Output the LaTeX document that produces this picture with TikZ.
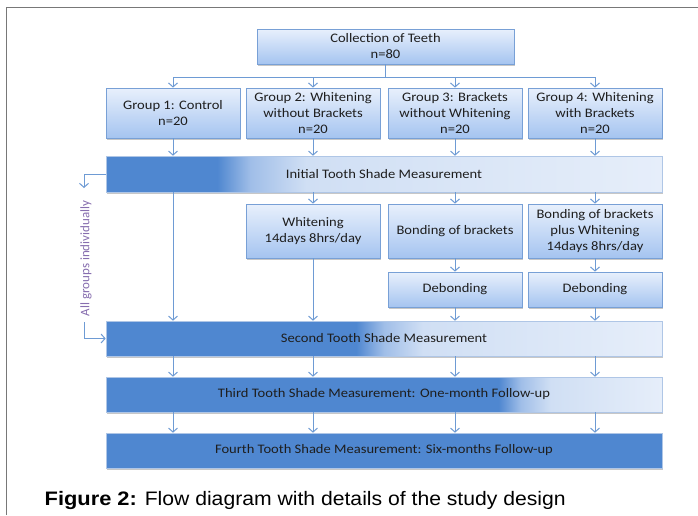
\documentclass[tikz,border=0pt]{standalone}
\usepackage{fontspec}
\setmainfont{Carlito}
\newfontfamily\boxfont[FakeStretch=1.12]{Carlito}
\newfontfamily\sidefont{Carlito}
\newfontfamily\capfont[FakeStretch=1.085, BoldFeatures={FakeStretch=1.12}]{Liberation Sans}
\usetikzlibrary{arrows.meta,shadows}
\definecolor{dk}{RGB}{79,135,208}
\definecolor{md}{RGB}{160,190,232}
\definecolor{lt}{RGB}{208,223,244}
\definecolor{ltr}{RGB}{230,238,250}
\definecolor{boxtop}{RGB}{232,240,252}
\definecolor{boxbot}{RGB}{165,196,240}
\definecolor{boxedge}{RGB}{120,160,214}
\definecolor{baredge}{RGB}{175,198,230}
\definecolor{arrc}{RGB}{110,155,212}
\definecolor{purp}{RGB}{135,110,175}
\definecolor{txt}{RGB}{30,30,30}
\definecolor{frm}{RGB}{120,120,120}
\pgfdeclarehorizontalshading{shInit}{100bp}{color(0bp)=(dk); color(35bp)=(dk); color(38bp)=(md); color(43bp)=(lt); color(75bp)=(ltr); color(100bp)=(ltr)}
\pgfdeclarehorizontalshading{shSec}{100bp}{color(0bp)=(dk); color(47.5bp)=(dk); color(50bp)=(md); color(53.5bp)=(lt); color(75bp)=(ltr); color(100bp)=(ltr)}
\pgfdeclarehorizontalshading{shThr}{100bp}{color(0bp)=(dk); color(60.3bp)=(dk); color(62.3bp)=(md); color(65bp)=(lt); color(75bp)=(ltr); color(100bp)=(ltr)}
\tikzset{
  sh/.style={drop shadow={shadow xshift=1.2pt, shadow yshift=-1.5pt, fill=black, opacity=0.22}},
  box/.style={sh, draw=boxedge, line width=0.8pt, top color=boxtop, bottom color=boxbot,
    minimum width=134pt, inner sep=0pt, align=center, text=txt,
    font=\boxfont\fontsize{13}{16}\selectfont},
  bar/.style={sh, draw=baredge, line width=0.6pt, minimum width=556pt, minimum height=35pt,
    inner sep=0pt, align=center, text=txt, font=\boxfont\fontsize{13}{16}\selectfont},
  arr/.style={draw=arrc, line width=1pt, -{Straight Barb[length=4pt,width=9pt]}},
  ln/.style={draw=arrc, line width=1pt}
}
\begin{document}
\begin{tikzpicture}[x=1pt,y=-1pt]
\useasboundingbox (0,0) rectangle (698,515);
\fill[white] (0,0) rectangle (698,515);
\draw[frm, line width=1.6pt] (6.5,515) -- (6.5,7.5) -- (698,7.5);

\node[box, minimum width=257pt, minimum height=35pt] (col) at (385.5,46.5) {Collection of Teeth\\n=80};
\node[box, minimum height=50pt] (g1) at (173,113) {Group 1: Control\\n=20};
\node[box, minimum height=50pt] (g2) at (313,113) {Group 2: Whitening\\without Brackets\\n=20};
\node[box, minimum height=50pt] (g3) at (455,113) {Group 3: Brackets\\without Whitening\\n=20};
\node[box, minimum height=50pt] (g4) at (595,113) {Group 4: Whitening\\with Brackets\\n=20};

\node[bar, minimum height=36pt, shading=shInit] (init) at (384,174) {Initial Tooth Shade Measurement};

\node[box, minimum height=54pt] (wh) at (313,231) {Whitening\\14days 8hrs/day};
\node[box, minimum height=54pt] (bb) at (455,231) {Bonding of brackets};
\node[box, minimum height=54pt] (bw) at (595,231) {Bonding of brackets\\plus Whitening\\14days 8hrs/day};
\node[box, minimum height=35pt] (d1) at (455,289.5) {Debonding};
\node[box, minimum height=35pt] (d2) at (595,289.5) {Debonding};

\node[bar, shading=shSec] (sec) at (384,338.5) {Second Tooth Shade Measurement};
\node[bar, shading=shThr] (thr) at (384,394.5) {Third Tooth Shade Measurement: One-month Follow-up};
\node[bar, fill=dk] (fou) at (384,450.5) {Fourth Tooth Shade Measurement: Six-months Follow-up};

% split from collection
\coordinate (split) at (385.5,77);
\draw[ln] (col.south) -- (split);
\foreach \g in {g1,g2,g3,g4} {\draw[arr] (split) -| (\g.north);}
\foreach \g in {g1,g2,g3,g4} {\draw[arr] (\g.south) -- (\g.south |- init.north);}

\draw[arr] (init.south -| g1.south) -- (sec.north -| g1.south);
\draw[arr] (init.south -| wh.north) -- (wh.north);
\draw[arr] (init.south -| bb.north) -- (bb.north);
\draw[arr] (init.south -| bw.north) -- (bw.north);
\draw[arr] (wh.south) -- (sec.north -| wh.south);
\draw[arr] (bb.south) -- (d1.north);
\draw[arr] (bw.south) -- (d2.north);
\draw[arr] (d1.south) -- (sec.north -| d1.south);
\draw[arr] (d2.south) -- (sec.north -| d2.south);

\foreach \x in {g1,wh,d1,d2} {
  \draw[arr] (sec.south -| \x.south) -- (thr.north -| \x.south);
  \draw[arr] (thr.south -| \x.south) -- (fou.north -| \x.south);
}

% side loop
\coordinate (sa) at (84,188);
\coordinate (sb) at (84,322);
\draw[arr] (init.west) -| (sa);
\draw[arr] (sb) |- (sec.west);
\node[rotate=90, text=purp, font=\sidefont\fontsize{13}{15}\selectfont, inner sep=0pt] (side) at (86,258.5) {All groups individually};

\node[anchor=base west, inner sep=0pt, font=\capfont\fontsize{19.5}{22}\selectfont] (cap) at (44.5,505.5) {\textbf{Figure 2:} Flow diagram with details of the study design};
\end{tikzpicture}
\end{document}
